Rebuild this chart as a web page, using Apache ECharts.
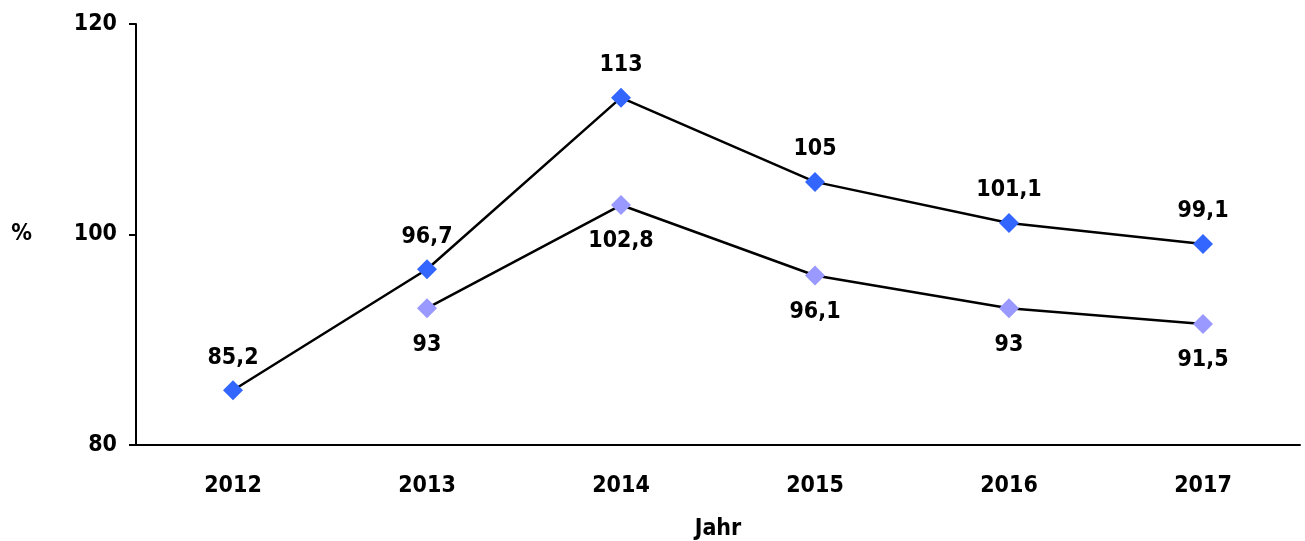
<!DOCTYPE html>
<html>
<head>
<meta charset="utf-8">
<script src="https://cdn.jsdelivr.net/npm/echarts@6/dist/echarts.min.js"></script>
<style>
  html, body { margin: 0; padding: 0; background: #fff; }
  #main { width: 1305px; height: 541px; }
</style>
</head>
<body>
<div id="main"></div>
<script>
var years = ['2012', '2013', '2014', '2015', '2016', '2017'];
var seriesA = [85.2, 96.7, 113, 105, 101.1, 99.1];
var seriesB = ['-', 93, 102.8, 96.1, 93, 91.5];

var font = 'DejaVu Sans Condensed';
var fs = 23;
function fmt(p) {
    return String(p.value).replace('.', ',');
}

var myChart = echarts.init(document.getElementById('main'));
var option = {
    animation: false,
    backgroundColor: '#fff',
    textStyle: { fontFamily: font, fontWeight: 'bold', color: '#000' },
    grid: { left: 136, right: 5, top: 24, bottom: 96, outerBoundsMode: 'none', containLabel: false },
    xAxis: {
        type: 'category',
        data: years,
        name: 'Jahr',
        nameLocation: 'middle',
        nameGap: 73,
        nameTextStyle: { fontFamily: font, fontWeight: 'bold', fontSize: fs, color: '#000' },
        axisLine: { lineStyle: { color: '#000', width: 2 } },
        axisTick: { length: 7, lineStyle: { color: '#000', width: 2 } },
        axisLabel: { margin: 30, fontFamily: font, fontWeight: 'bold', fontSize: fs, color: '#000' }
    },
    yAxis: {
        type: 'value',
        min: 80,
        max: 120,
        interval: 20,
        name: '%',
        nameLocation: 'middle',
        nameRotate: 0,
        nameGap: 104,
        nameTextStyle: { fontFamily: font, fontWeight: 'bold', fontSize: fs, color: '#000' },
        splitLine: { show: false },
        axisLine: { show: true, lineStyle: { color: '#000', width: 2 } },
        axisTick: { show: true, length: 7, lineStyle: { color: '#000', width: 2 } },
        axisLabel: { margin: 19, fontFamily: font, fontWeight: 'bold', fontSize: fs, color: '#000' }
    },
    series: [{
        name: 'A',
        type: 'line',
        data: seriesA,
        symbol: 'diamond',
        symbolSize: 20,
        itemStyle: { color: '#3366ff' },
        lineStyle: { color: '#000', width: 2.5 },
        label: {
            show: true, position: 'top', distance: 11, formatter: fmt,
            fontFamily: font, fontWeight: 'bold', fontSize: fs, color: '#000'
        }
    }, {
        name: 'B',
        type: 'line',
        data: seriesB,
        symbol: 'diamond',
        symbolSize: 20,
        itemStyle: { color: '#9999ff' },
        lineStyle: { color: '#000', width: 2.5 },
        label: {
            show: true, position: 'bottom', distance: 15, formatter: fmt,
            fontFamily: font, fontWeight: 'bold', fontSize: fs, color: '#000'
        }
    }]
};
myChart.setOption(option);
</script>
</body>
</html>
